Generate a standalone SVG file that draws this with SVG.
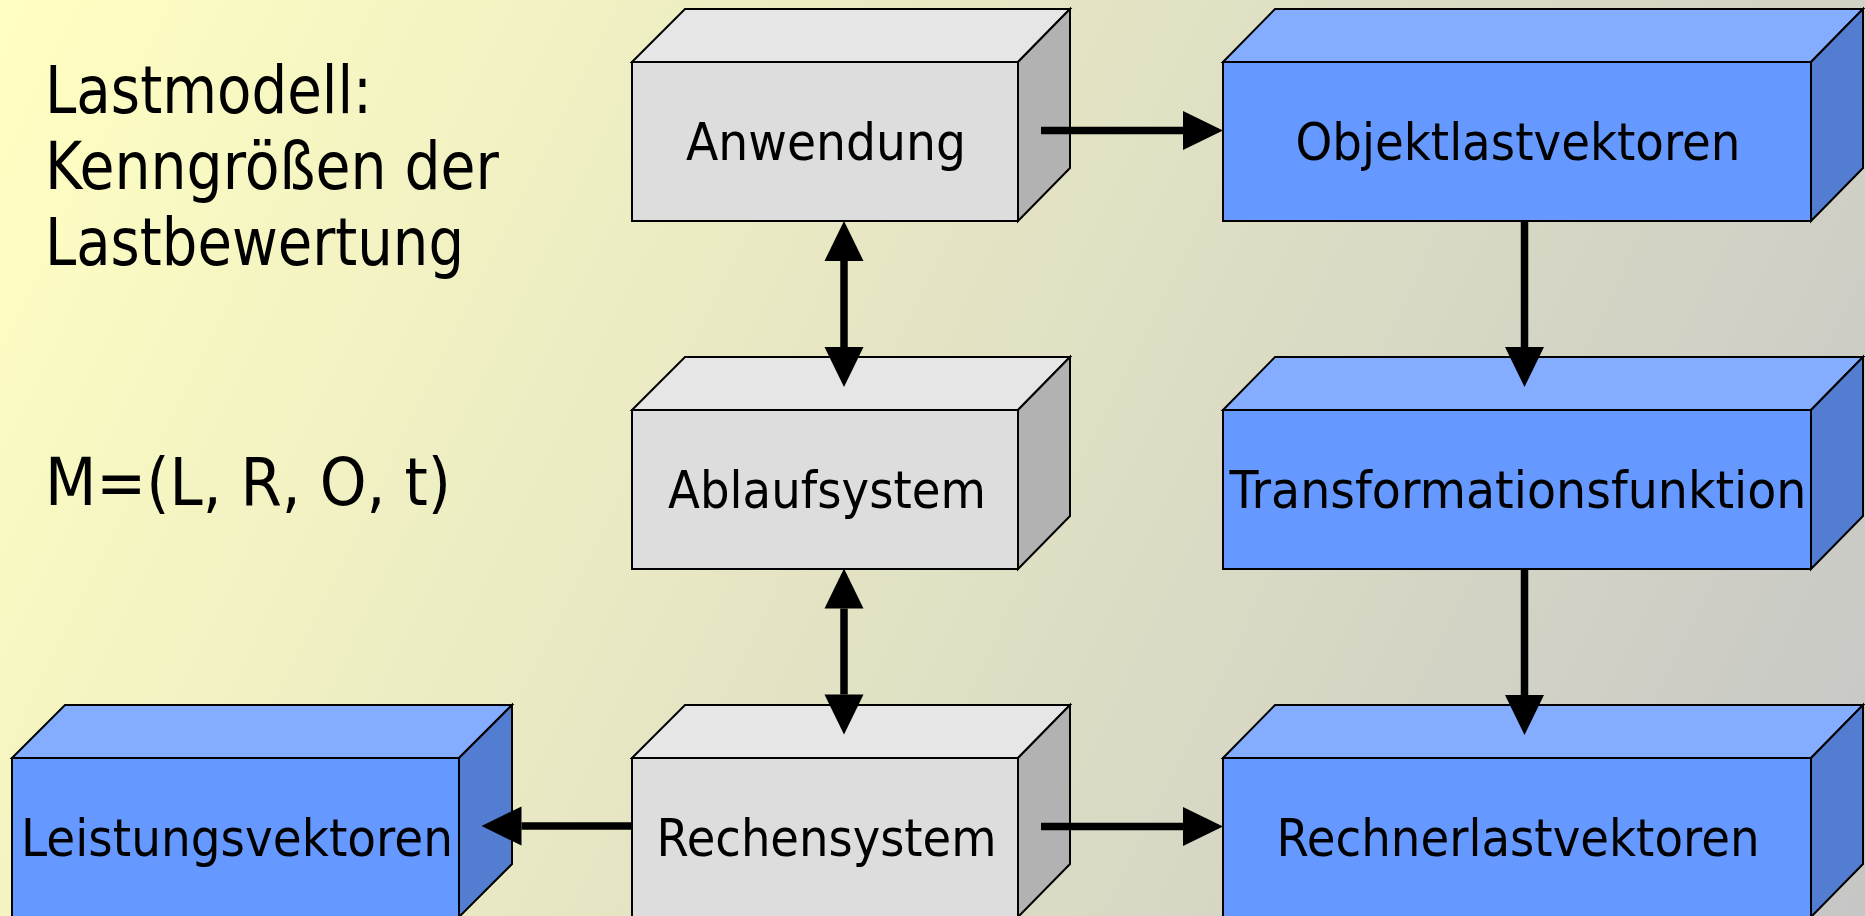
<svg xmlns="http://www.w3.org/2000/svg" width="1865" height="916" viewBox="0 0 1865 916">
  <defs>
    <linearGradient id="bg" gradientUnits="userSpaceOnUse" x1="0" y1="0" x2="1865" y2="916">
      <stop offset="0" stop-color="#FFFFC2"/>
      <stop offset="1" stop-color="#C6C6C6"/>
    </linearGradient>
    <marker id="head" markerUnits="userSpaceOnUse" markerWidth="40" markerHeight="40" viewBox="0 0 40 40" refX="0" refY="20" orient="auto-start-reverse" overflow="visible">
      <path d="M0,0.5 L40,20 L0,39.5 Z" fill="#000"/>
    </marker>
  </defs>
  <style>
    .edge { stroke: #000; stroke-width: 2; stroke-linejoin: miter; }
    .g-front { fill: #DDDDDD; }
    .g-top { fill: #E6E6E6; }
    .g-side { fill: #B2B2B2; }
    .b-front { fill: #6699FF; }
    .b-top { fill: #85ADFF; }
    .b-side { fill: #527DD0; }
    .label { font-family: "DejaVu Sans", Verdana, sans-serif; font-size: 52px; fill: #000; text-anchor: middle; }
    .note { font-family: "DejaVu Sans", Verdana, sans-serif; font-size: 66px; fill: #000; }
    .conn { fill: none; stroke: #000; stroke-width: 7.5; marker-end: url(#head); }
    .conn2 { marker-start: url(#head); }
  </style>

  <rect x="0" y="0" width="1865" height="916" fill="url(#bg)"/>

  <!-- heading and model definition -->
  <g id="title">
    <text class="note" x="45" y="113" textLength="327" lengthAdjust="spacingAndGlyphs">Lastmodell:</text>
    <text class="note" x="45" y="189" textLength="454" lengthAdjust="spacingAndGlyphs">Kenngrößen der</text>
    <text class="note" x="45" y="265" textLength="419" lengthAdjust="spacingAndGlyphs">Lastbewertung</text>
    <text class="note" x="45" y="505" textLength="406" lengthAdjust="spacingAndGlyphs">M=(L, R, O, t)</text>
  </g>

  <!-- grey column -->
  <g id="anwendung">
    <polygon class="g-top edge" points="632,62 685,9 1070,9 1018,62"/>
    <polygon class="g-side edge" points="1018,62 1070,9 1070,168 1018,221"/>
    <rect class="g-front edge" x="632" y="62" width="386" height="159"/>
    <text class="label" x="826" y="159.5" textLength="280" lengthAdjust="spacingAndGlyphs">Anwendung</text>
  </g>
  <g id="ablaufsystem">
    <polygon class="g-top edge" points="632,410 685,357 1070,357 1018,410"/>
    <polygon class="g-side edge" points="1018,410 1070,357 1070,516 1018,569"/>
    <rect class="g-front edge" x="632" y="410" width="386" height="159"/>
    <text class="label" x="827" y="507.5" textLength="318" lengthAdjust="spacingAndGlyphs">Ablaufsystem</text>
  </g>
  <g id="rechensystem">
    <polygon class="g-top edge" points="632,758 685,705 1070,705 1018,758"/>
    <polygon class="g-side edge" points="1018,758 1070,705 1070,864 1018,917"/>
    <rect class="g-front edge" x="632" y="758" width="386" height="159"/>
    <text class="label" x="826.5" y="855.5" textLength="340" lengthAdjust="spacingAndGlyphs">Rechensystem</text>
  </g>

  <!-- blue column -->
  <g id="objektlastvektoren">
    <polygon class="b-top edge" points="1223,62 1275,9 1863,9 1811,62"/>
    <polygon class="b-side edge" points="1811,62 1863,9 1863,168 1811,221"/>
    <rect class="b-front edge" x="1223" y="62" width="588" height="159"/>
    <text class="label" x="1518" y="159.5" textLength="445" lengthAdjust="spacingAndGlyphs">Objektlastvektoren</text>
  </g>
  <g id="transformationsfunktion">
    <polygon class="b-top edge" points="1223,410 1275,357 1863,357 1811,410"/>
    <polygon class="b-side edge" points="1811,410 1863,357 1863,516 1811,569"/>
    <rect class="b-front edge" x="1223" y="410" width="588" height="159"/>
    <text class="label" x="1518" y="507.5" textLength="577" lengthAdjust="spacingAndGlyphs">Transformationsfunktion</text>
  </g>
  <g id="rechnerlastvektoren">
    <polygon class="b-top edge" points="1223,758 1275,705 1863,705 1811,758"/>
    <polygon class="b-side edge" points="1811,758 1863,705 1863,864 1811,917"/>
    <rect class="b-front edge" x="1223" y="758" width="588" height="159"/>
    <text class="label" x="1518" y="855.5" textLength="483" lengthAdjust="spacingAndGlyphs">Rechnerlastvektoren</text>
  </g>
  <g id="leistungsvektoren">
    <polygon class="b-top edge" points="12,758 65,705 512,705 459,758"/>
    <polygon class="b-side edge" points="459,758 512,705 512,864 459,917"/>
    <rect class="b-front edge" x="12" y="758" width="447" height="159"/>
    <text class="label" x="237" y="855.5" textLength="432" lengthAdjust="spacingAndGlyphs">Leistungsvektoren</text>
  </g>

  <!-- connectors: shafts end at the arrowhead base, the marker adds the head -->
  <g id="connectors">
    <path class="conn" d="M1041,130.5 H1183"/>
    <path class="conn" d="M1041,826.5 H1183"/>
    <path class="conn" d="M632,826 H521.5"/>
    <path class="conn conn2" d="M844,261 V347"/>
    <path class="conn conn2" d="M844,608.5 V694.5"/>
    <path class="conn" d="M1524.5,221 V347"/>
    <path class="conn" d="M1524.5,568.5 V695"/>
  </g>
</svg>
